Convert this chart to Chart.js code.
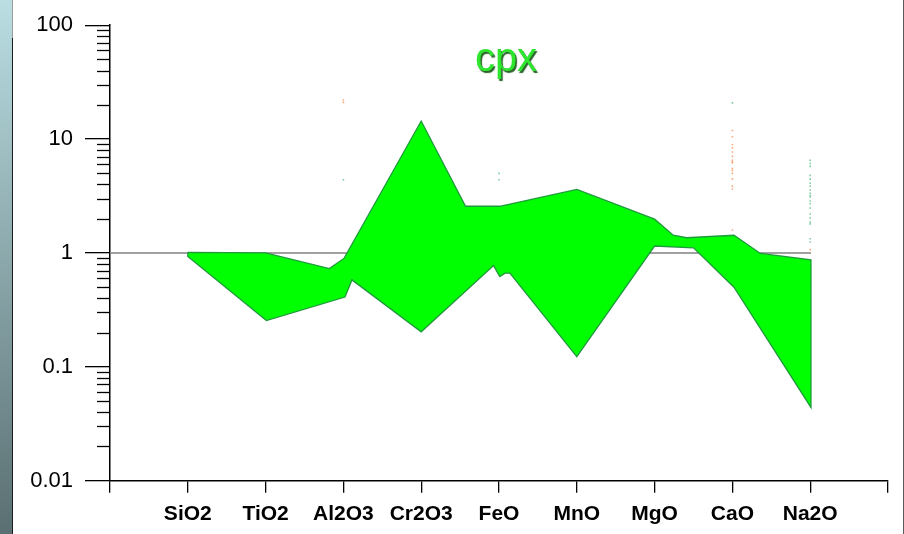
<!DOCTYPE html>
<html>
<head>
<meta charset="utf-8">
<script src="https://cdn.jsdelivr.net/npm/chart.js@4/dist/chart.umd.min.js"></script>
<style>
  html, body { margin: 0; padding: 0; background: #fff; }
  #wrap { position: relative; width: 904px; height: 534px; overflow: hidden; background: #fff; }
  #strip { position: absolute; left: 0; top: 0; width: 12px; height: 534px;
           background: linear-gradient(#badee2, #5a6f72); }
  #strip-edge { position: absolute; left: 12px; top: 38px; width: 1px; height: 496px; background: #1c1c1c; }
  #strip-edge-top { position: absolute; left: 12px; top: 0; width: 1px; height: 38px; background: #9a9a9a; }
  #edge { position: absolute; right: 0; top: 0; width: 1px; height: 534px; background: #5a5a5a; }
  canvas { position: absolute; left: 0; top: 0; }
</style>
</head>
<body>
<div id="wrap">
  <canvas id="c" width="904" height="534"></canvas>
  <div id="strip"></div><div id="strip-edge-top"></div><div id="strip-edge"></div>
  <div id="edge"></div>
</div>
<script>
// Oxide order along the x axis (empty slots pad both ends)
const oxides = ['', 'SiO2', 'TiO2', 'Al2O3', 'Cr2O3', 'FeO', 'MnO', 'MgO', 'CaO', 'Na2O', ''];

// Log axis decades and their printed labels
const yMajor = [0.01, 0.1, 1, 10, 100];
const yMajorLabels = ['0.01', '0.1', '1', '10', '100'];

// cpx envelope outline (upper edge left->right, lower edge right->left)
const envelopeX = [1.00, 2.00, 2.82, 3.01, 4.00, 4.57, 5.01, 6.00, 7.00, 7.24, 7.41, 8.02, 8.36, 9.01,
                   9.01, 8.02, 7.50, 7.00, 6.00, 5.14, 5.08, 5.01, 4.93, 4.00, 3.11, 3.02, 2.01, 1.00, 1.00];
const envelopeY = [1.01, 1.00, 0.73, 0.90, 14.4, 2.57, 2.57, 3.61, 1.98, 1.43, 1.36, 1.43, 0.99, 0.87,
                   0.044, 0.50, 1.11, 1.15, 0.123, 0.665, 0.665, 0.62, 0.775, 0.203, 0.58, 0.41, 0.255, 0.93, 1.01];

// Normalisation reference (value = 1)
const refX = [0, 9.01];
const refY = [1, 1];

// Individual analyses outside the envelope
const orangeX = [3, 3, 8, 8, 8, 8, 8, 8, 8, 8, 8, 8, 8, 8, 8, 8, 8, 8, 9];
const orangeY = [22, 21, 11.9, 10.5, 8.9, 8.4, 7.7, 7.05, 6.5, 6.3, 6.2, 5.5, 5.3, 5.0, 4.47, 3.86, 3.65, 1.59, 1.07];
const greenX = [3, 5, 5, 8, 9, 9, 9, 9, 9, 9, 9, 9, 9, 9, 9, 9, 9, 9, 9, 9, 9, 9, 9, 9];
const greenY = [4.4, 5.0, 4.4, 20.8, 6.5, 6.1, 5.76, 4.8, 4.45, 4.1, 3.85, 3.57, 3.35, 3.2, 3.1, 2.86, 2.7, 2.48, 2.2, 2.03, 1.87, 1.8, 1.33, 1.25];

const pts = (xs, ys) => xs.map((x, i) => ({ x: x, y: ys[i] }));

const FONT = "'Liberation Sans', Arial, Helvetica, sans-serif";

// Minor log tick marks and the "cpx" label
const decor = {
  id: 'decor',
  afterDraw(chart) {
    const ctx = chart.ctx;
    const y = chart.scales.y;
    const left = chart.chartArea.left;
    ctx.save();
    ctx.strokeStyle = '#000';
    ctx.lineWidth = 1.3;
    for (let k = 0; k < yMajor.length - 1; k++) {
      for (let m = 2; m <= 9; m++) {
        const py = Math.round(y.getPixelForValue(m * yMajor[k])) + 0.5;
        ctx.beginPath();
        ctx.moveTo(left - 13, py);
        ctx.lineTo(left, py);
        ctx.stroke();
      }
    }
    ctx.font = '40px ' + FONT;
    ctx.textAlign = 'center';
    ctx.textBaseline = 'alphabetic';
    ctx.shadowColor = 'rgba(0,70,0,0.85)';
    ctx.shadowOffsetX = 1.5;
    ctx.shadowOffsetY = 1.5;
    ctx.shadowBlur = 1;
    ctx.fillStyle = '#2ee62e';
    ctx.fillText('cpx', 506, 71);
    ctx.restore();
  }
};

new Chart(document.getElementById('c'), {
  type: 'scatter',
  data: {
    datasets: [
      {
        label: 'orange',
        data: pts(orangeX, orangeY),
        pointStyle: 'rect', pointRadius: 1.1, borderWidth: 0,
        backgroundColor: 'rgba(244,140,80,0.75)',
        order: -1
      },
      {
        label: 'green',
        data: pts(greenX, greenY),
        pointStyle: 'rect', pointRadius: 1.1, borderWidth: 0,
        backgroundColor: 'rgba(40,170,90,0.6)',
        order: -1
      },
      {
        label: 'cpx',
        data: pts(envelopeX, envelopeY),
        showLine: true, tension: 0, pointRadius: 0,
        borderColor: '#1f9a3c', borderWidth: 1.3,
        backgroundColor: '#00ff00',
        fill: 'shape',
        order: 0
      },
      {
        label: 'ref',
        data: pts(refX, refY),
        showLine: true, pointRadius: 0,
        borderColor: '#808080', borderWidth: 1.6,
        fill: false,
        order: 1
      }
    ]
  },
  options: {
    responsive: false,
    animation: false,
    layout: { padding: { top: 21.7, right: 16, left: 0, bottom: 0 } },
    plugins: { legend: { display: false }, tooltip: { enabled: false }, title: { display: false } },
    scales: {
      x: {
        type: 'linear', min: 0, max: 10,
        afterBuildTicks(s) { s.ticks = oxides.map((_, i) => ({ value: i })); },
        afterFit(s) { s.height = 53.3; },
        ticks: {
          autoSkip: false, maxRotation: 0,
          callback: (v) => oxides[v] || '',
          font: { family: FONT, size: 21, weight: 'bold' },
          color: '#000', padding: 9
        },
        grid: { drawOnChartArea: false, drawTicks: true, tickLength: 12, color: '#000', lineWidth: 1.3 },
        border: { display: true, color: '#000', width: 1.5 }
      },
      y: {
        type: 'logarithmic', min: 0.01, max: 100,
        afterBuildTicks(s) { s.ticks = yMajor.map(v => ({ value: v })); },
        afterFit(s) { s.width = 110; },
        ticks: {
          autoSkip: false,
          callback: (v) => { const i = yMajor.findIndex(m => Math.abs(m - v) < m * 1e-6); return i >= 0 ? yMajorLabels[i] : ''; },
          font: { family: FONT, size: 22 },
          color: '#000', padding: 12
        },
        grid: { drawOnChartArea: false, drawTicks: true, tickLength: 25, color: '#000', lineWidth: 1.3 },
        border: { display: true, color: '#000', width: 1.5 }
      }
    }
  },
  plugins: [decor]
});
</script>
</body>
</html>
